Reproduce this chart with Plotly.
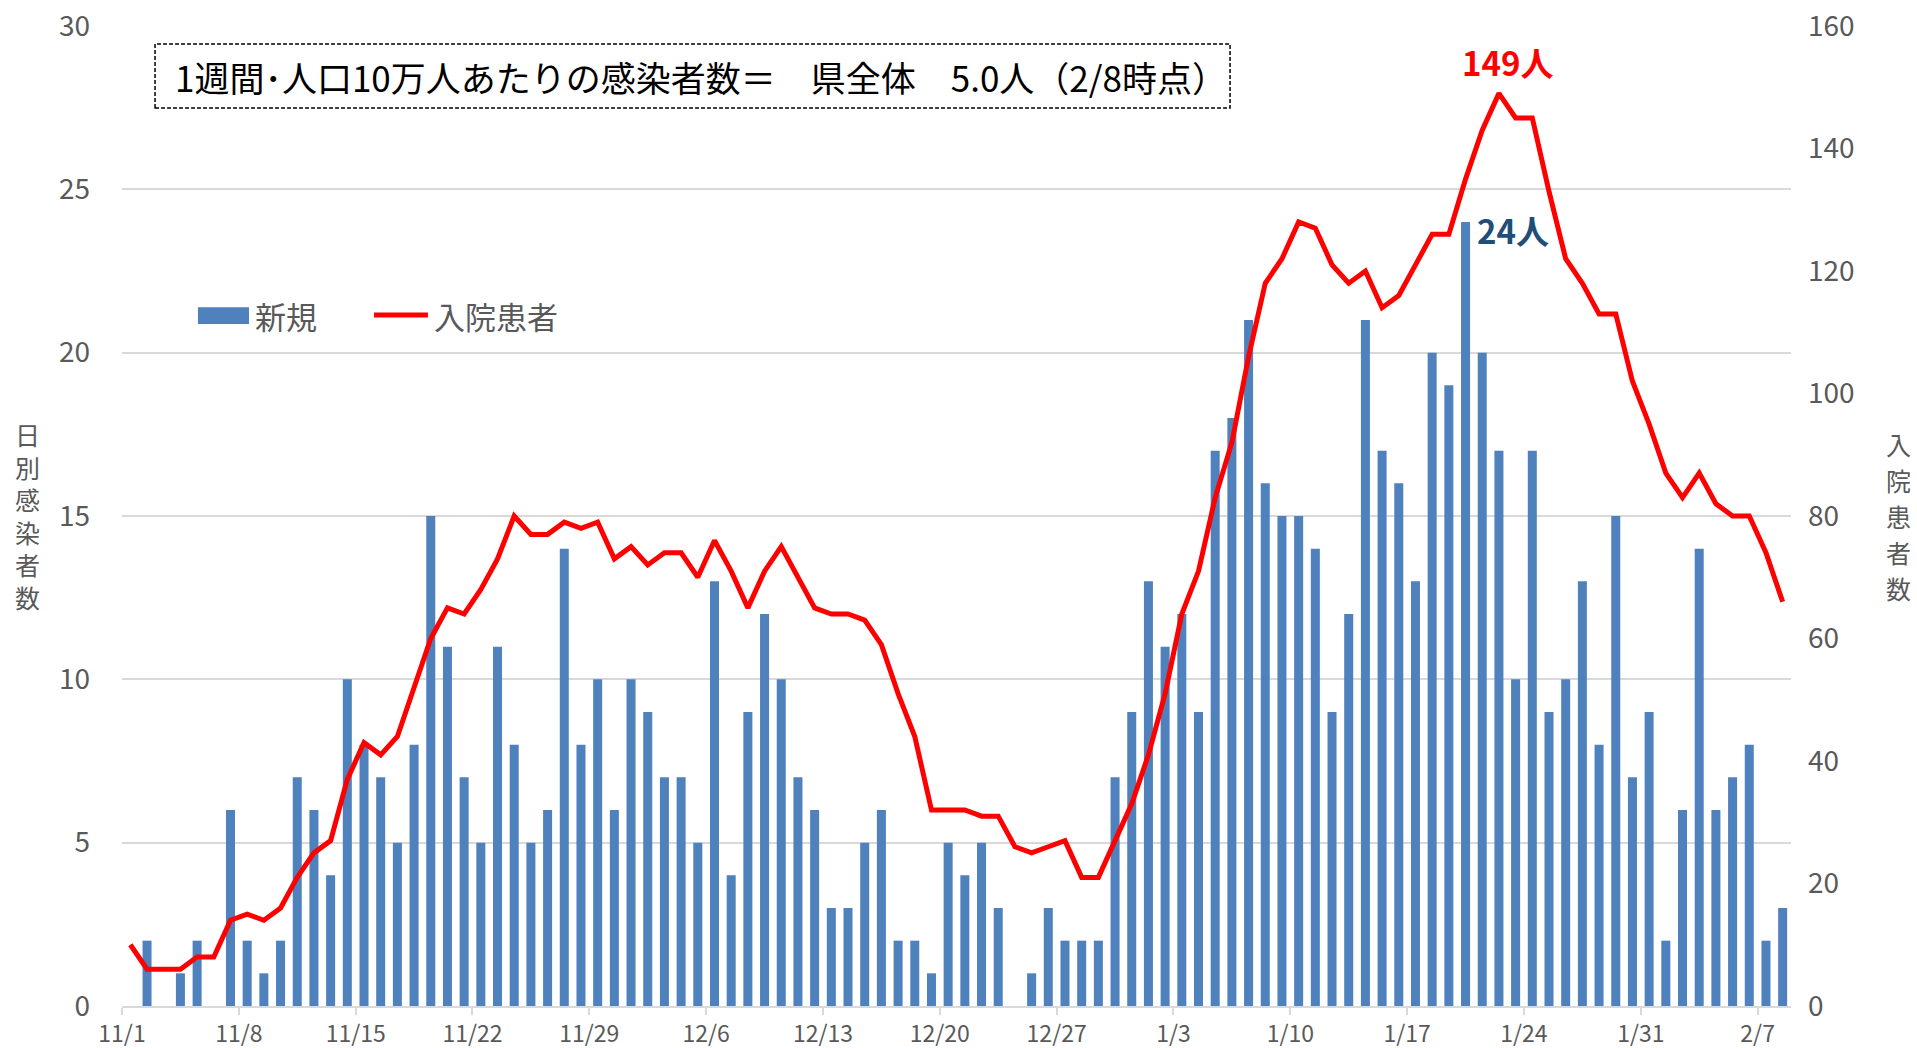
import plotly.graph_objects as go
import pandas as pd

# ---- data ----
dates = pd.date_range("2020-11-01", "2021-02-08", freq="D").strftime("%Y-%m-%d").tolist()

new_cases = [0, 2, 0, 1, 2, 0, 6, 2, 1, 2, 7, 6, 4, 10, 8, 7, 5, 8, 15, 11, 7, 5, 11,
             8, 5, 6, 14, 8, 10, 6, 10, 9, 7, 7, 5, 13, 4, 9, 12, 10, 7, 6, 3, 3, 5, 6,
             2, 2, 1, 5, 4, 5, 3, 0, 1, 3, 2, 2, 2, 7, 9, 13, 11, 12, 9, 17, 18, 21,
             16, 15, 15, 14, 9, 12, 21, 17, 16, 13, 20, 19, 24, 20, 17, 10, 17, 9, 10, 13, 8, 15, 7,
             9, 2, 6, 14, 6, 7, 8, 2, 3]

inpatients = [10, 6, 6, 6, 8, 8, 14, 15, 14, 16, 21, 25, 27, 37, 43, 41, 44, 52, 60, 65, 64, 68, 73,
              80, 77, 77, 79, 78, 79, 73, 75, 72, 74, 74, 70, 76, 71, 65, 71, 75, 70, 65, 64, 64, 63, 59,
              51, 44, 32, 32, 32, 31, 31, 26, 25, 26, 27, 21, 21, 27, 33, 41, 51, 64, 71, 83, 92, 106,
              118, 122, 128, 127, 121, 118, 120, 114, 116, 121, 126, 126, 135, 143, 149, 145, 145, 133, 122, 118, 113, 113, 102,
              95, 87, 83, 87, 82, 80, 80, 74, 66]

bar_name = "新規"
line_name = "入院患者"
left_title = "日別感染者数"
right_title = "入院患者数"
box_text = "1週間･人口10万人あたりの感染者数＝　県全体　5.0人（2/8時点）"

FONT = "Noto Sans CJK JP"
GRAY = "#595959"
DAY = 86400000
PLOT_H = 980.0

fig = go.Figure()
fig.add_trace(go.Bar(
    x=dates, y=new_cases, name=bar_name,
    xperiod=DAY, xperiodalignment="middle",
    marker=dict(color="#4F81BD", line=dict(width=0)),
    showlegend=False,
))
fig.add_trace(go.Scatter(
    x=dates, y=inpatients, name=line_name, yaxis="y2",
    xperiod=DAY, xperiodalignment="middle",
    mode="lines", line=dict(color="#FF0000", width=5),
    showlegend=False,
))

# peak labels
imax_line = max(range(len(inpatients)), key=lambda i: inpatients[i])
imax_bar = max(range(len(new_cases)), key=lambda i: new_cases[i])
annotations = [
    dict(x=pd.Timestamp(dates[imax_line]) + pd.Timedelta(hours=12), y=inpatients[imax_line],
         xref="x", yref="y2", text=f"<b>{inpatients[imax_line]}人</b>", showarrow=False,
         xshift=9, yshift=31, font=dict(family=FONT, size=33, color="#FF0000")),
    dict(x=pd.Timestamp(dates[imax_bar]) + pd.Timedelta(hours=12), y=new_cases[imax_bar],
         xref="x", yref="y", text=f"<b>{new_cases[imax_bar]}人</b>", showarrow=False,
         xanchor="left", xshift=9, yshift=-8, font=dict(family=FONT, size=33, color="#1F4E79")),
    dict(x=0.0306, y=0.948, xref="paper", yref="paper", xanchor="left", yanchor="middle",
         text=box_text, showarrow=False, font=dict(family=FONT, size=35, color="#000000")),
    dict(x=-0.0569, y=0.501, xref="paper", yref="paper", xanchor="center", yanchor="middle",
         text="<br>".join(left_title), showarrow=False, font=dict(family=FONT, size=25, color=GRAY)),
    dict(x=0.0785, y=0.705, xref="paper", yref="paper", xanchor="left", yanchor="middle",
         text=bar_name, showarrow=False, font=dict(family=FONT, size=31, color=GRAY)),
    dict(x=0.1857, y=0.705, xref="paper", yref="paper", xanchor="left", yanchor="middle",
         text=line_name, showarrow=False, font=dict(family=FONT, size=31, color=GRAY)),
]
# right axis title: stacked characters with wider spacing
pitch = 36.0 / PLOT_H
y_top = 0.5 + pitch * (len(right_title) - 1) / 2
for k, ch in enumerate(right_title):
    annotations.append(dict(
        x=1.0647, y=y_top - k * pitch, xref="paper", yref="paper", xanchor="center", yanchor="middle",
        text=ch, showarrow=False, font=dict(family=FONT, size=25, color=GRAY)))

shapes = [
    dict(type="rect", xref="paper", yref="paper", x0=0.0198, x1=0.6639, y0=0.9163, y1=0.9816,
         line=dict(color="#000000", width=1.5, dash="4px,2px"), fillcolor="white", layer="above"),
    dict(type="rect", xref="paper", yref="paper", x0=0.0455, x1=0.0761, y0=0.696, y1=0.713,
         line=dict(width=0), fillcolor="#4F81BD"),
    dict(type="line", xref="paper", yref="paper", x0=0.151, x1=0.1833, y0=0.705, y1=0.705,
         line=dict(color="#FF0000", width=5)),
]

fig.update_layout(
    width=1917, height=1048,
    margin=dict(l=122, r=126, t=26, b=42, autoexpand=False),
    paper_bgcolor="white", plot_bgcolor="white",
    bargap=0.46,
    font=dict(family=FONT, color=GRAY, size=25),
    xaxis=dict(
        type="date", range=["2020-11-01", "2021-02-09"], automargin=False,
        tick0="2020-11-01", dtick=7 * DAY, tickformat="%-m/%-d",
        showgrid=False, showline=True, linecolor="#D9D9D9", linewidth=1.5,
        ticks="outside", ticklen=7, tickcolor="#D9D9D9", tickwidth=1.5,
        tickfont=dict(family=FONT, size=23, color=GRAY),
        zeroline=False,
    ),
    yaxis=dict(
        range=[0, 30], dtick=5, showgrid=True, gridcolor="#D9D9D9", gridwidth=1.5,
        zeroline=False, showline=False, ticks="", automargin=False,
        tickfont=dict(family=FONT, size=28, color=GRAY), ticklabelstandoff=31,
    ),
    yaxis2=dict(
        range=[0, 160], dtick=20, overlaying="y", side="right", showgrid=False,
        zeroline=False, showline=False, ticks="", automargin=False,
        tickfont=dict(family=FONT, size=28, color=GRAY), ticklabelstandoff=16,
    ),
    annotations=annotations,
    shapes=shapes,
)

fig.write_html("out.html", config={"displayModeBar": False},
               post_script="document.body.style.margin='0';document.body.style.overflow='hidden';")
